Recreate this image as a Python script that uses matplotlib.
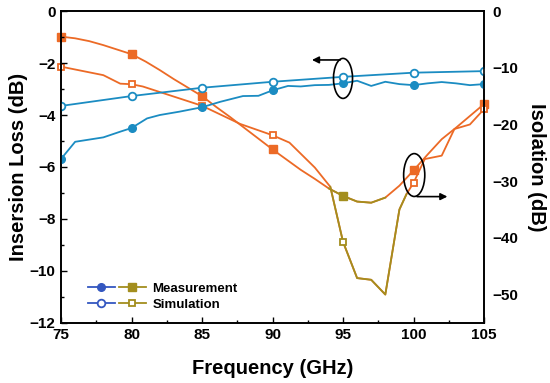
import numpy as np
import matplotlib
matplotlib.use("Agg")
import matplotlib.pyplot as plt
from matplotlib.patches import Ellipse
from matplotlib.lines import Line2D
from matplotlib.legend_handler import HandlerTuple

plt.rcParams['font.family'] = ['Liberation Sans', 'DejaVu Sans']
plt.rcParams['font.weight'] = 'bold'

# ---- data ----
il_meas_f = [75, 76, 78, 79.2, 80, 81.1, 82, 83.4, 85, 86.3, 87.9, 89, 90, 91.1, 92, 93, 94,
             95, 96, 97, 98, 99, 100, 101, 102, 103, 104, 105]
il_meas = [-5.69, -5.03, -4.86, -4.64, -4.5, -4.13, -4.0, -3.87, -3.7, -3.49, -3.27, -3.26, -3.05,
           -2.88, -2.9, -2.85, -2.84, -2.78, -2.68, -2.88, -2.72, -2.81, -2.85, -2.78, -2.73,
           -2.78, -2.85, -2.81]

il_sim_f = [75, 80, 85, 90, 95, 100, 105]
il_sim = [-3.65, -3.27, -2.95, -2.72, -2.53, -2.37, -2.31]

iso_meas_f = [75, 76, 77, 78, 79, 80, 81, 82, 83, 84, 85, 86, 87, 88, 89, 90, 91, 92, 93, 94,
              95, 96, 97, 98, 99, 100, 101, 102, 103, 104, 105]
iso_meas = [-4.5, -4.8, -5.3, -6.0, -6.8, -7.6, -8.9, -10.4, -12.0, -13.5, -15.0, -16.9, -18.7,
            -20.6, -22.5, -24.4, -26.2, -28.0, -29.6, -31.3, -32.6, -33.6, -33.8, -32.9, -30.8,
            -28.1, -25.3, -22.6, -20.6, -18.5, -16.4]

iso_sim_f = [75, 78, 79.2, 80, 80.8, 85, 87.7, 90, 91.2, 93, 94.1, 95, 96, 97, 98, 99, 99.5,
             100, 100.8, 102, 102.9, 104, 105]
iso_sim = [-9.8, -11.3, -12.8, -12.9, -13.3, -16.7, -19.9, -21.9, -23.2, -27.6, -31.0, -40.7,
           -47.1, -47.4, -50.0, -35.0, -32.3, -30.3, -26.1, -25.5, -20.8, -20.0, -17.3]

marker_f = [75, 80, 85, 90, 95, 100, 105]
labels = ["Measurement", "Simulation"]

BLUE = '#1B8CC2'
ORANGE = '#EC6A26'
OLIVE = '#A38E1E'
LEGBLUE = '#3457C0'

fig = plt.figure(figsize=(5.5, 3.83), dpi=100)
ax = fig.add_axes([0.111, 0.157, 0.769, 0.814])
ax2 = ax.twinx()

lw = 1.3
ms = 5.5

def mk(fx, fy):
    fx = np.array(fx); fy = np.array(fy)
    m = np.isin(fx, marker_f)
    return fx[m], fy[m]

# Insertion loss (left)
ax.plot(il_meas_f, il_meas, color=BLUE, lw=lw)
x, y = mk(il_meas_f, il_meas)
ax.plot(x, y, 'o', color=BLUE, ms=ms, mec=BLUE)
ax.plot(il_sim_f, il_sim, color=BLUE, lw=lw)
x, y = mk(il_sim_f, il_sim)
ax.plot(x, y, 'o', color=BLUE, ms=ms, mfc='white', mec=BLUE, mew=1.3)

# Isolation (right)
fm = np.array(iso_meas_f); vm = np.array(iso_meas)
ax2.plot(fm, vm, color=ORANGE, lw=lw)
sel = (fm >= 94) & (fm <= 98)
ax2.plot(fm[sel], vm[sel], color=OLIVE, lw=lw)
fs = np.array(iso_sim_f); vs = np.array(iso_sim)
ax2.plot(fs, vs, color=ORANGE, lw=lw)
sel = (fs >= 94.1) & (fs <= 99.5)
ax2.plot(fs[sel], vs[sel], color=OLIVE, lw=lw)

x, y = mk(iso_meas_f, iso_meas)
for xi, yi in zip(x, y):
    c = OLIVE if xi == 95 else ORANGE
    ax2.plot(xi, yi, 's', color=c, mec=c, ms=ms, clip_on=False)
x, y = mk(iso_sim_f, iso_sim)
for xi, yi in zip(x, y):
    c = OLIVE if xi == 95 else ORANGE
    ax2.plot(xi, yi, 's', mfc='white', mec=c, mew=1.3, ms=ms - 0.5, clip_on=False)

# axes
ax.set_xlim(75, 105)
ax.set_ylim(-12, 0)
ax2.set_ylim(-55, 0)
ax.set_xticks([75, 80, 85, 90, 95, 100, 105])
ax.set_xticks(np.arange(77.5, 105, 2.5), minor=True)
ax.set_yticks([0, -2, -4, -6, -8, -10, -12])
ax.set_yticks(np.arange(-11, 0, 2), minor=True)
ax2.set_yticks([0, -10, -20, -30, -40, -50])

ax.tick_params(axis='both', which='major', direction='in', length=4.5, width=1.0,
               labelsize=11, pad=4)
ax.tick_params(axis='both', which='minor', direction='in', length=2.5, width=1.0)
ax.tick_params(axis='y', which='both', right=False)
ax.tick_params(axis='x', which='both', top=False)
ax2.tick_params(axis='y', which='both', length=0, labelsize=11, pad=6)
for a in (ax, ax2):
    for s in a.spines.values():
        s.set_linewidth(1.2)
for lab in ax.get_xticklabels() + ax.get_yticklabels() + ax2.get_yticklabels():
    lab.set_fontweight('bold')

ax.set_xlabel("Frequency (GHz)", fontsize=14.5, fontweight='bold', labelpad=12)
ax.set_ylabel("Insersion Loss (dB)", fontsize=14.5, fontweight='bold', labelpad=1)
ax2.set_ylabel("Isolation (dB)", fontsize=14.5, fontweight='bold', rotation=270, labelpad=20)

# ellipses and arrows (left axis data coords)
ax.add_patch(Ellipse((95.0, -2.59), 1.35, 1.54, fill=False, ec='black', lw=1.2, zorder=5))
ax.annotate('', xy=(92.6, -1.88), xytext=(95.0, -1.88),
            arrowprops=dict(arrowstyle='-|>', color='black', lw=1.2, mutation_scale=10))
ax.add_patch(Ellipse((100.05, -6.31), 1.5, 1.65, fill=False, ec='black', lw=1.2, zorder=5))
ax.annotate('', xy=(102.6, -7.14), xytext=(100.05, -7.14),
            arrowprops=dict(arrowstyle='-|>', color='black', lw=1.2, mutation_scale=10))
ax.set_zorder(ax2.get_zorder() + 1)
ax.patch.set_visible(False)

# legend
h1a = Line2D([], [], color=LEGBLUE, marker='o', ms=ms, lw=lw)
h1b = Line2D([], [], color=OLIVE, marker='s', ms=ms, lw=lw)
h2a = Line2D([], [], color=LEGBLUE, marker='o', ms=ms, mfc='white', mew=1.3, lw=lw)
h2b = Line2D([], [], color=OLIVE, marker='s', ms=ms - 0.5, mfc='white', mew=1.3, lw=lw)
ax.legend([(h1a, h1b), (h2a, h2b)], labels,
          handler_map={tuple: HandlerTuple(ndivide=None, pad=0.3)},
          loc='lower left', bbox_to_anchor=(0.035, 0.0), frameon=False,
          prop={'weight': 'bold', 'size': 9.5}, handlelength=4.4, handletextpad=0.5,
          labelspacing=0.3)

fig.savefig("out.png", dpi=100)
